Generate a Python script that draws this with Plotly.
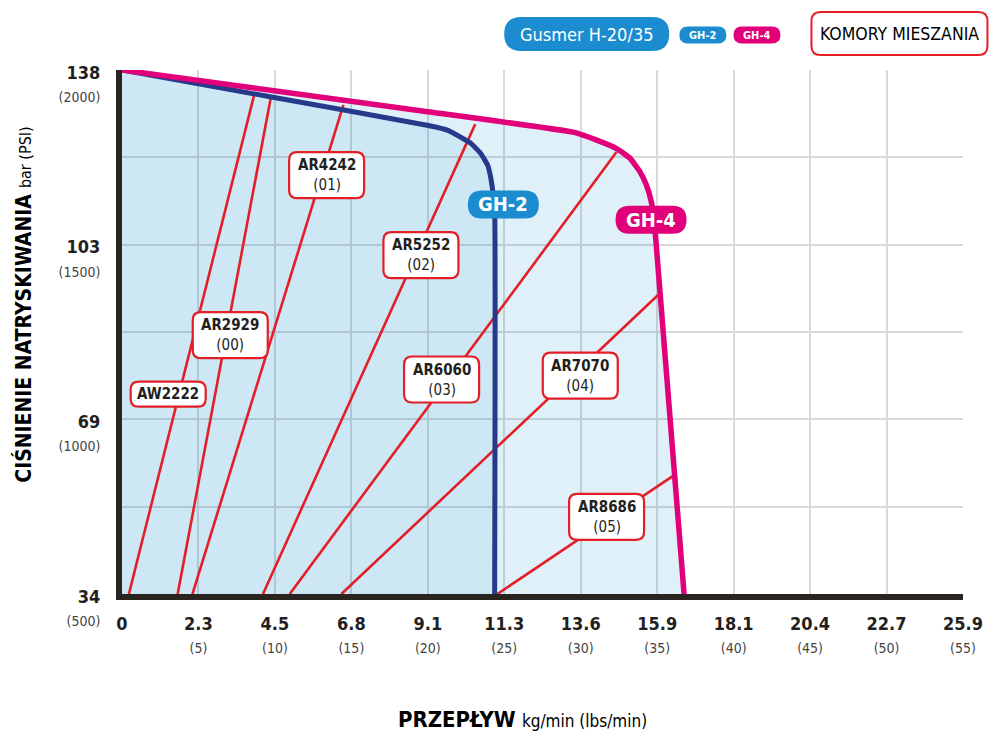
import plotly.graph_objects as go

# ---------------- data ----------------
flow_lbs_ticks = [0, 5, 10, 15, 20, 25, 30, 35, 40, 45, 50, 55]
flow_kg_labels = ["0", "2.3", "4.5", "6.8", "9.1", "11.3", "13.6", "15.9", "18.1", "20.4", "22.7", "25.9"]
psi_ticks = [500, 1000, 1500, 2000]
bar_labels = ["34", "69", "103", "138"]

# GH-2 performance curve (lbs/min, psi)
gh2_x = [0, 9.5, 20.03, 21.32, 22.17, 22.82, 23.46, 23.92, 24.11, 24.24, 24.37, 24.37]
gh2_y = [2000, 1925, 1841, 1827, 1807, 1790, 1761, 1727, 1693, 1656, 1600, 500]

# GH-4 performance curve (lbs/min, psi)
gh4_x = [0, 19.4, 29.5, 31.0, 32.35, 33.21, 33.86, 34.30, 34.62, 34.83, 34.94, 36.76]
gh4_y = [2000, 1884, 1822, 1800, 1775, 1748, 1710, 1670, 1622, 1556, 1499, 500]

# mixing chambers: name, code, start/end (lbs/min, psi)
chamber_names = ["AW2222", "AR2929", "AR4242", "AR5252", "AR6060", "AR7070", "AR8686"]
chamber_codes = ["", "(00)", "(01)", "(02)", "(03)", "(04)", "(05)"]
chamber_x0 = [0.45, 3.64, 4.61, 9.22, 10.97, 14.35, 24.55]
chamber_x1 = [8.64, 9.74, 14.48, 23.10, 32.34, 35.06, 36.04]
chamber_y0 = [500, 500, 500, 500, 500, 500, 500]
chamber_y1 = [1928, 1923, 1900, 1845, 1765, 1356, 838]
# label anchor positions (lbs/min, psi)
label_x = [3.02, 7.08, 13.38, 19.55, 20.9, 29.97, 31.69]
label_y = [1072, 1241, 1699, 1470, 1114, 1125, 721]

# ---------------- style ----------------
FONT = "'Liberation Sans Narrow', 'DejaVu Sans Condensed', 'Roboto', sans-serif"
DARK = "#231f20"
PINK = "#e2007a"
NAVY = "#263a8b"
RED = "#e41e26"
BLUE = "#1b8ccf"
GRID = "#d9d9d9"

W, H = 995, 734
L, R, T, B = 122, 26, 70, 140

fig = go.Figure()

# fills (semi-transparent so grid shows through)
fig.add_trace(go.Scatter(x=gh4_x, y=gh4_y, mode="lines", fill="tozeroy",
                         fillcolor="rgba(0,130,200,0.122)", line=dict(width=0, shape="spline", smoothing=0.4),
                         hoverinfo="skip", showlegend=False))
fig.add_trace(go.Scatter(x=gh2_x, y=gh2_y, mode="lines", fill="tozeroy",
                         fillcolor="rgba(0,130,200,0.08)", line=dict(width=0, shape="spline", smoothing=0.4),
                         hoverinfo="skip", showlegend=False))

# chamber lines
for i, n in enumerate(chamber_names):
    fig.add_trace(go.Scatter(x=[chamber_x0[i], chamber_x1[i]], y=[chamber_y0[i], chamber_y1[i]],
                             mode="lines", line=dict(color=RED, width=2.6), name=n, showlegend=False))

# curves
fig.add_trace(go.Scatter(x=gh2_x, y=gh2_y, mode="lines", name="GH-2",
                         line=dict(color=NAVY, width=5, shape="spline", smoothing=0.4), showlegend=False))
fig.add_trace(go.Scatter(x=gh4_x, y=gh4_y, mode="lines", name="GH-4",
                         line=dict(color=PINK, width=5.5, shape="spline", smoothing=0.4), showlegend=False))


def rrect(w, h, r):
    a, b = w / 2, h / 2
    return (f"M {-a+r},{-b} L {a-r},{-b} Q {a},{-b} {a},{-b+r} L {a},{b-r} Q {a},{b} {a-r},{b} "
            f"L {-a+r},{b} Q {-a},{b} {-a},{b-r} L {-a},{-b+r} Q {-a},{-b} {-a+r},{-b} Z")


shapes = []
annotations = []

# chamber labels
for i, n in enumerate(chamber_names):
    h = 25 if chamber_codes[i] == "" else 46
    shapes.append(dict(type="path", xref="x", yref="y", xsizemode="pixel", ysizemode="pixel",
                       xanchor=label_x[i], yanchor=label_y[i], path=rrect(75, h, 8),
                       fillcolor="white", line=dict(color=RED, width=2.2), layer="above"))
    txt = f"<b>{n}</b>" if chamber_codes[i] == "" else f"<b>{n}</b><br>{chamber_codes[i]}"
    annotations.append(dict(x=label_x[i], y=label_y[i], xref="x", yref="y", text=txt, showarrow=False,
                            xanchor="center", yanchor="middle",
                            font=dict(family=FONT, size=15, color=DARK), align="center"))

# GH-2 / GH-4 pills on the curves
for (px, py, col, t) in [(24.94, 1615, BLUE, "GH-2"), (34.6, 1571, PINK, "GH-4")]:
    shapes.append(dict(type="path", xref="x", yref="y", xsizemode="pixel", ysizemode="pixel",
                       xanchor=px, yanchor=py, path=rrect(71, 28, 14),
                       fillcolor=col, line=dict(width=0), layer="above"))
    annotations.append(dict(x=px, y=py, xref="x", yref="y", text=f"<b>{t}</b>", showarrow=False,
                            xanchor="center", yanchor="middle",
                            font=dict(family=FONT, size=20, color="white")))


def pxp(x):
    return (x - L) / (W - L - R)


def pyp(y):
    return (H - B - y) / (H - T - B)


# top legend
for (cx, cy, w, h, r, fc, lc, t, fs, fcol, bold) in [
    (590, 34, 165, 34, 17, BLUE, BLUE, "Gusmer H-20/35", 18, "white", False),
    (707, 35, 47, 17, 8.5, BLUE, BLUE, "GH-2", 11, "white", True),
    (761.5, 35, 47, 17, 8.5, PINK, PINK, "GH-4", 11, "white", True),
    (905, 33.5, 176, 43, 9, "white", RED, "KOMORY MIESZANIA", 17.5, "black", False),
]:
    shapes.append(dict(type="path", xref="paper", yref="paper", xsizemode="pixel", ysizemode="pixel",
                       xanchor=pxp(cx), yanchor=pyp(cy), path=rrect(w, h, r),
                       fillcolor=fc, line=dict(color=lc, width=2 if fc == "white" else 0), layer="above"))
    annotations.append(dict(x=pxp(cx), y=pyp(cy), xref="paper", yref="paper", showarrow=False,
                            xanchor="center", yanchor="middle",
                            text=(f"<b>{t}</b>" if bold else t),
                            font=dict(family=FONT, size=fs, color=fcol)))

# axis titles
annotations.append(dict(x=pxp(22), y=pyp(305), xref="paper", yref="paper", showarrow=False, textangle=-90,
                        xanchor="center", yanchor="middle",
                        text="<b>CIŚNIENIE NATRYSKIWANIA</b> <span style='font-size:16px'>bar (PSI)</span>",
                        font=dict(family=FONT, size=21, color="black")))
annotations.append(dict(x=pxp(525), y=pyp(719), xref="paper", yref="paper", showarrow=False,
                        xanchor="center", yanchor="middle",
                        text="<b>PRZEPŁYW</b> <span style='font-size:17px'>kg/min (lbs/min)</span>",
                        font=dict(family=FONT, size=22, color="black")))

xt_text = []
for k, lb in zip(flow_kg_labels, flow_lbs_ticks):
    if lb == 0:
        xt_text.append(f"<b>{k}</b>")
    else:
        xt_text.append(f"<b>{k}</b><br><span style='font-size:14px;color:#444'>({lb})</span>")

y_vals = [500, 750, 1000, 1250, 1500, 1750, 2000]
y_text = []
for v in y_vals:
    if v in psi_ticks:
        b = bar_labels[psi_ticks.index(v)]
        y_text.append(f"<b>{b}</b><br><span style='font-size:14px;color:#444'>({v})</span>")
    else:
        y_text.append("")

fig.update_layout(
    width=W, height=H, margin=dict(l=L, r=R, t=T, b=B),
    paper_bgcolor="white", plot_bgcolor="white",
    font=dict(family=FONT, color=DARK),
    shapes=shapes, annotations=annotations, showlegend=False,
    xaxis=dict(range=[0, 55], tickvals=flow_lbs_ticks, ticktext=xt_text, tickfont=dict(size=18, color=DARK),
               showgrid=True, gridcolor=GRID, gridwidth=1.5, zeroline=False,
               showline=True, linecolor="#2a2421", linewidth=6, ticks="", ticklabelstandoff=8),
    yaxis=dict(range=[500, 2000], tickvals=y_vals, ticktext=y_text, tickfont=dict(size=18, color=DARK),
               showgrid=True, gridcolor=GRID, gridwidth=1.5, zeroline=False,
               showline=True, linecolor="#2a2421", linewidth=6, ticks="", ticklabelstandoff=12,
               ticklabelshift=14),
)

fig.write_html("out.html", config={"displayModeBar": False},
               post_script="document.body.style.margin='0';")
